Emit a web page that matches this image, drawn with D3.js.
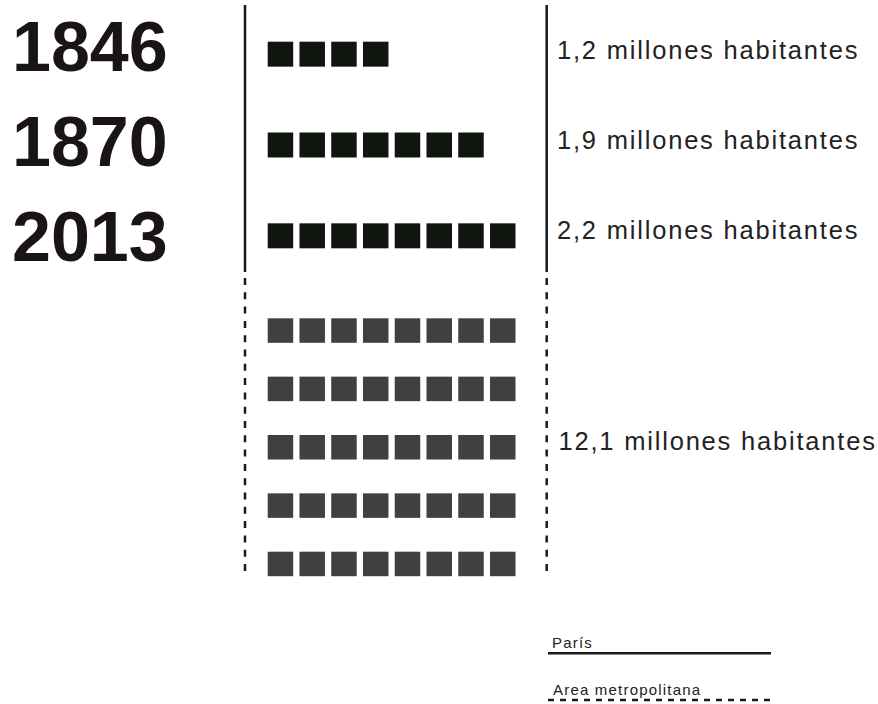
<!DOCTYPE html>
<meta charset="utf-8">
<style>

body {
  margin: 0;
  background: #fff;
}

svg {
  display: block;
  font-family: "Helvetica Neue", "Liberation Sans", Arial, sans-serif;
}

.year {
  font-size: 70px;
  font-weight: bold;
  fill: #1b1414;
}

.label {
  font-size: 25.5px;
  letter-spacing: 1.8px;
  fill: #222;
}

.legend text {
  font-size: 15px;
  letter-spacing: 1.2px;
  fill: #222;
}

.frame {
  stroke: #1a1a1a;
  stroke-width: 2.5;
  fill: none;
}

.frame.dashed {
  stroke-dasharray: 7, 7.3;
}

</style>
<body>
<script src="https://d3js.org/d3.v7.min.js"></script>
<script>

// one square = 0.3 million people
var years = ["1846", "1870", "2013"],
    parisSquares = [4, 7, 8],
    parisLabels = ["1,2 millones habitantes", "1,9 millones habitantes", "2,2 millones habitantes"];

var metroRows = [0, 1, 2, 3, 4],
    metroPerRow = 8,
    metroLabel = "12,1 millones habitantes";

var columns = d3.range(8);

var legendItems = ["París", "Area metropolitana"];

var width = 878,
    height = 704;

var svg = d3.select("body").append("svg")
    .attr("width", width)
    .attr("height", height);

var x = d3.scaleBand()
    .domain(columns)
    .range([267.7, 515.5])
    .paddingInner(0.197)
    .paddingOuter(0);

var y = d3.scaleBand()
    .domain(years)
    .range([41.7, 248.3])
    .paddingInner(0.725)
    .paddingOuter(0);

var yYear = d3.scalePoint()
    .domain(years)
    .range([71, 261]);

var yLabel = d3.scalePoint()
    .domain(years)
    .range([59.3, 239]);

var yMetro = d3.scaleBand()
    .domain(metroRows)
    .range([318.3, 576.2])
    .paddingInner(0.58)
    .paddingOuter(0);

// frame lines
var frameX = [245, 546.7];

svg.selectAll(".frame.solid")
    .data(frameX)
  .enter().append("line")
    .attr("class", "frame solid")
    .attr("x1", function(d) { return d; })
    .attr("x2", function(d) { return d; })
    .attr("y1", 5)
    .attr("y2", 272);

svg.selectAll(".frame.dashed")
    .data(frameX)
  .enter().append("line")
    .attr("class", "frame dashed")
    .attr("x1", function(d) { return d; })
    .attr("x2", function(d) { return d; })
    .attr("y1", 278)
    .attr("y2", 577);

// years
svg.selectAll(".year")
    .data(years)
  .enter().append("text")
    .attr("class", "year")
    .attr("x", 12)
    .attr("y", function(d) { return yYear(d); })
    .text(function(d) { return d; });

// paris squares
var rows = svg.selectAll(".row")
    .data(years)
  .enter().append("g")
    .attr("class", "row")
    .attr("transform", function(d) { return "translate(0," + y(d) + ")"; });

rows.selectAll("rect")
    .data(function(d, i) { return d3.range(parisSquares[i]); })
  .enter().append("rect")
    .attr("x", function(d) { return x(d); })
    .attr("width", x.bandwidth())
    .attr("height", y.bandwidth())
    .style("fill", "#111510");

svg.selectAll(".label.paris")
    .data(years)
  .enter().append("text")
    .attr("class", "label paris")
    .attr("x", 557)
    .attr("y", function(d) { return yLabel(d); })
    .text(function(d, i) { return parisLabels[i]; });

// metropolitan area squares
var mrows = svg.selectAll(".mrow")
    .data(metroRows)
  .enter().append("g")
    .attr("class", "mrow")
    .attr("transform", function(d) { return "translate(0," + yMetro(d) + ")"; });

mrows.selectAll("rect")
    .data(d3.range(metroPerRow))
  .enter().append("rect")
    .attr("x", function(d) { return x(d); })
    .attr("width", x.bandwidth())
    .attr("height", yMetro.bandwidth())
    .style("fill", "#404040");

svg.append("text")
    .attr("class", "label metro")
    .attr("x", 558.5)
    .attr("y", yMetro(2) + yMetro.bandwidth() / 2 + 2.5)
    .text(metroLabel);

// legend
var legend = svg.selectAll(".legend")
    .data(legendItems)
  .enter().append("g")
    .attr("class", "legend")
    .attr("transform", function(d, i) { return "translate(548," + (653.3 + i * 46.7) + ")"; });

legend.append("line")
    .attr("class", function(d, i) { return i ? "frame dashed" : "frame"; })
    .attr("x1", 0)
    .attr("x2", 223)
    .style("stroke-dasharray", function(d, i) { return i ? "6,6" : null; });

legend.append("text")
    .attr("x", function(d, i) { return i ? 5 : 4; })
    .attr("y", -5)
    .text(function(d) { return d; });

</script>
